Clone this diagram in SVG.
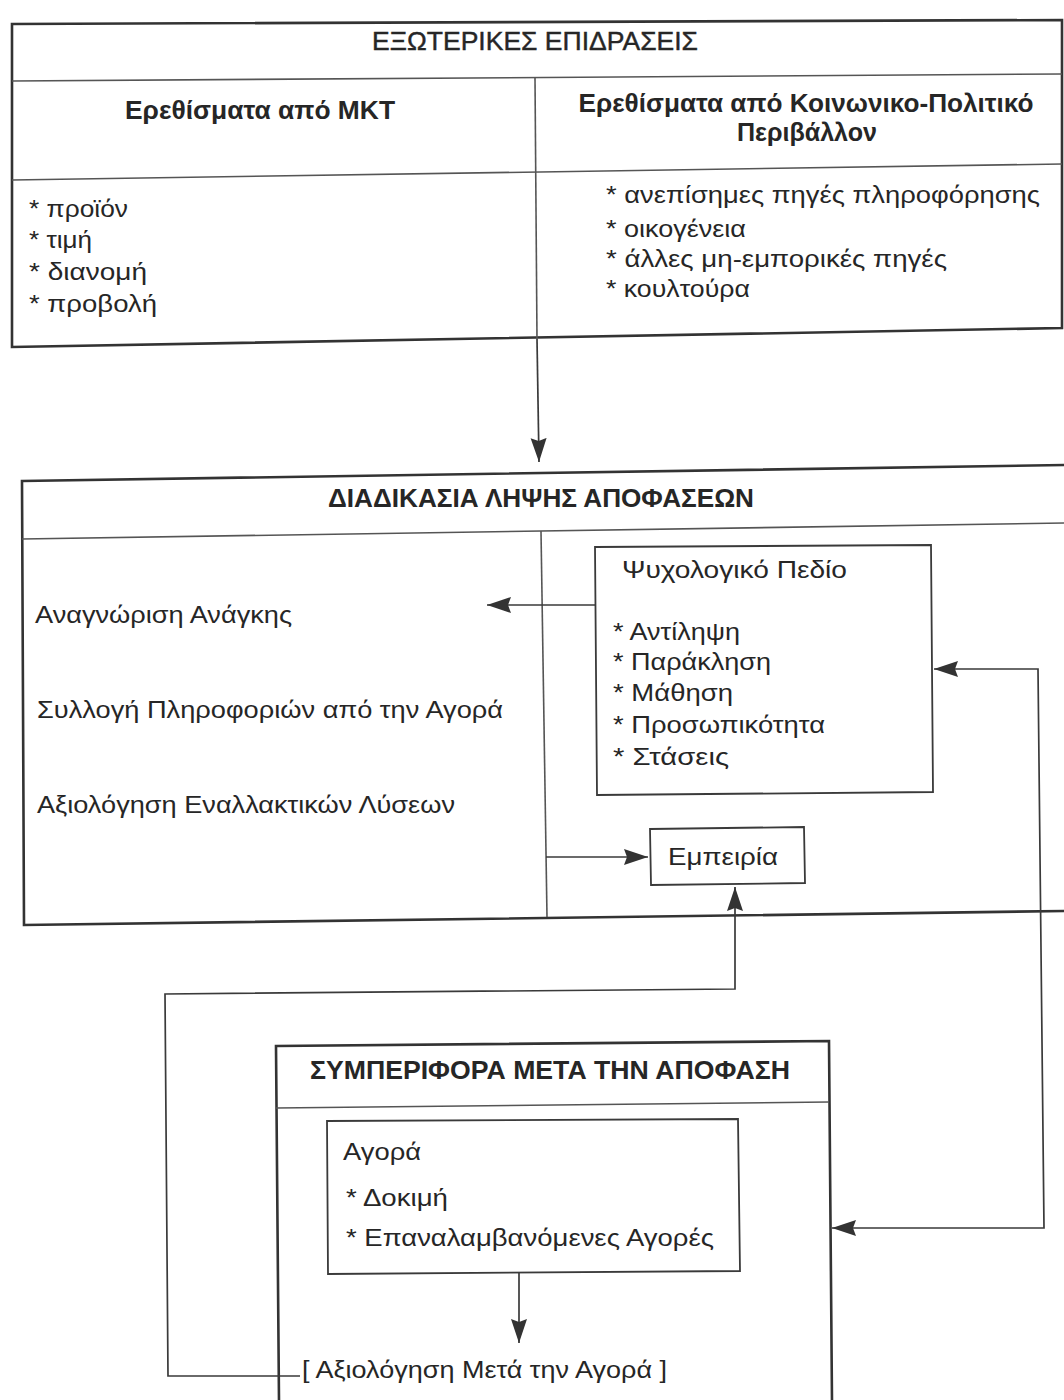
<svg xmlns="http://www.w3.org/2000/svg" width="1064" height="1400" viewBox="0 0 1064 1400">
<style>
text{font-family:"Liberation Sans",Arial,sans-serif;fill:#262626;font-size:23.5px}
.h{font-weight:bold;font-size:25px}
.t{font-size:25px;stroke:#262626;stroke-width:0.4}
.box{fill:none;stroke:#333;stroke-width:2.6;stroke-linejoin:miter}
.ibox{fill:none;stroke:#3a3a3a;stroke-width:1.8}
.div{fill:none;stroke:#555;stroke-width:1.6}
.con{fill:none;stroke:#3a3a3a;stroke-width:1.7}
</style>
<defs>
<marker id="ah" markerUnits="userSpaceOnUse" markerWidth="26" markerHeight="18" refX="24" refY="8" orient="auto-start-reverse" viewBox="0 0 26 16">
<path d="M0,0 L24,8 L0,16 L3,8 Z" fill="#333"/>
</marker>
</defs>

<g id="external">
<polygon class="box" points="12,24 1062,20 1062,328 12,347"/>
<line class="div" x1="12" y1="81" x2="1062" y2="74"/>
<line class="div" x1="12" y1="180" x2="1062" y2="164"/>
<line class="div" x1="535" y1="78" x2="537" y2="339"/>
<text class="t" x="535" y="50" text-anchor="middle" textLength="326" lengthAdjust="spacingAndGlyphs">ΕΞΩΤΕΡΙΚΕΣ ΕΠΙΔΡΑΣΕΙΣ</text>
<text class="h" x="260" y="119" text-anchor="middle" textLength="270" lengthAdjust="spacingAndGlyphs">Ερεθίσματα από ΜΚΤ</text>
<text class="h" x="806" y="112" text-anchor="middle" textLength="455" lengthAdjust="spacingAndGlyphs">Ερεθίσματα από Κοινωνικο-Πολιτικό</text>
<text class="h" x="807" y="141" text-anchor="middle" textLength="140" lengthAdjust="spacingAndGlyphs">Περιβάλλον</text>
<text x="29" y="217" textLength="99" lengthAdjust="spacingAndGlyphs">* προϊόν</text>
<text x="29" y="248" textLength="63" lengthAdjust="spacingAndGlyphs">* τιμή</text>
<text x="29" y="280" textLength="118" lengthAdjust="spacingAndGlyphs">* διανομή</text>
<text x="29" y="312" textLength="128" lengthAdjust="spacingAndGlyphs">* προβολή</text>
<text x="606" y="203" textLength="434" lengthAdjust="spacingAndGlyphs">* ανεπίσημες πηγές πληροφόρησης</text>
<text x="606" y="237" textLength="140" lengthAdjust="spacingAndGlyphs">* οικογένεια</text>
<text x="606" y="267" textLength="341" lengthAdjust="spacingAndGlyphs">* άλλες μη-εμπορικές πηγές</text>
<text x="606" y="297" textLength="144" lengthAdjust="spacingAndGlyphs">* κουλτούρα</text>
</g>

<g id="decision">
<polygon class="box" points="22,481 1066,465 1066,911 24,925"/>
<line class="div" x1="22" y1="539" x2="1066" y2="523"/>
<line class="div" x1="541" y1="531" x2="547" y2="917"/>
<text class="h" x="541" y="507" text-anchor="middle" textLength="426" lengthAdjust="spacingAndGlyphs">ΔΙΑΔΙΚΑΣΙΑ ΛΗΨΗΣ ΑΠΟΦΑΣΕΩΝ</text>
<text x="35" y="623" textLength="257" lengthAdjust="spacingAndGlyphs">Αναγνώριση Ανάγκης</text>
<text x="37" y="718" textLength="466" lengthAdjust="spacingAndGlyphs">Συλλογή Πληροφοριών από την Αγορά</text>
<text x="37" y="813" textLength="418" lengthAdjust="spacingAndGlyphs">Αξιολόγηση Εναλλακτικών Λύσεων</text>
</g>

<g id="psych">
<polygon class="ibox" points="595,547 931,545 933,792 597,795"/>
<text x="622" y="578" textLength="225" lengthAdjust="spacingAndGlyphs">Ψυχολογικό Πεδίο</text>
<text x="613" y="640" textLength="127" lengthAdjust="spacingAndGlyphs">* Αντίληψη</text>
<text x="613" y="670" textLength="158" lengthAdjust="spacingAndGlyphs">* Παράκληση</text>
<text x="613" y="701" textLength="120" lengthAdjust="spacingAndGlyphs">* Μάθηση</text>
<text x="613" y="733" textLength="212" lengthAdjust="spacingAndGlyphs">* Προσωπικότητα</text>
<text x="613" y="765" textLength="116" lengthAdjust="spacingAndGlyphs">* Στάσεις</text>
</g>

<g id="experience">
<polygon class="ibox" points="650,829 804,827 805,883 651,885"/>
<text x="668" y="865" textLength="110" lengthAdjust="spacingAndGlyphs">Εμπειρία</text>
</g>

<g id="postdecision">
<polygon class="box" points="276,1046 829,1041 832,1402 279,1402"/>
<line class="div" x1="276" y1="1108" x2="829" y2="1102"/>
<text class="h" x="550" y="1079" text-anchor="middle" textLength="480" lengthAdjust="spacingAndGlyphs">ΣΥΜΠΕΡΙΦΟΡΑ ΜΕΤΑ ΤΗΝ ΑΠΟΦΑΣΗ</text>
</g>

<g id="purchase">
<polygon class="ibox" points="327,1121 738,1119 740,1271 328,1274"/>
<text x="343" y="1160" textLength="78" lengthAdjust="spacingAndGlyphs">Αγορά</text>
<text x="346" y="1206" textLength="102" lengthAdjust="spacingAndGlyphs">* Δοκιμή</text>
<text x="346" y="1246" textLength="368" lengthAdjust="spacingAndGlyphs">* Επαναλαμβανόμενες Αγορές</text>
</g>

<g id="evaluation">
<text x="302" y="1378" textLength="365" lengthAdjust="spacingAndGlyphs">[ Αξιολόγηση Μετά την Αγορά ]</text>
</g>

<g id="connectors">
<path class="con" d="M537,339 L539,462" marker-end="url(#ah)"/>
<path class="con" d="M595,605 H487" marker-end="url(#ah)"/>
<path class="con" d="M546,857 H648" marker-end="url(#ah)"/>
<path class="con" d="M934,669 H1038 L1044,1228 H832" marker-start="url(#ah)" marker-end="url(#ah)"/>
<path class="con" d="M300,1376 H168 L165,994 L735,989 V887" marker-end="url(#ah)"/>
<path class="con" d="M519,1273 V1343" marker-end="url(#ah)"/>
</g>
</svg>
